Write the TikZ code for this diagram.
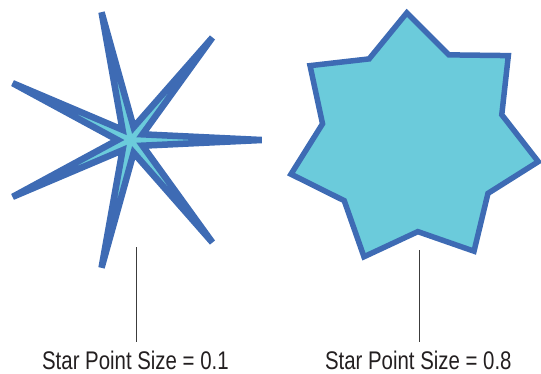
\documentclass[tikz,border=0pt]{standalone}
\usepackage{fontspec}
\setmainfont[FakeStretch=0.8]{Liberation Sans}
\usetikzlibrary{shapes.geometric}
\definecolor{starBlue}{RGB}{62,107,180}
\definecolor{starCyan}{RGB}{107,203,219}
\definecolor{inkBlack}{RGB}{35,31,32}
\definecolor{leaderGray}{RGB}{60,60,60}
\tikzset{
  star shape/.style={star,star points=7,draw=starBlue,fill=starCyan,line width=5.5pt,inner sep=0pt,outer sep=0pt},
  size label/.style={font=\fontsize{25.5}{30}\selectfont,text=inkBlack,inner sep=0pt,anchor=base},
  leader/.style={draw=leaderGray,line width=1pt}
}

\begin{document}
\begin{tikzpicture}[x=1pt,y=-1pt]
  \useasboundingbox (0,0) rectangle (541,373);
  % the two stars
  \node[star shape,line width=6.5pt,minimum size=262pt,star point ratio=10,shape border rotate=-90] (thinstar) at (130.7,140) {};
  \node[star shape,minimum size=254pt,star point ratio=1.38,shape border rotate=2.9] (fatstar) at (413.2,139.7) {};
  % captions
  \node[size label] (thinlabel) at (135.4,369) {Star Point Size = 0.1};
  \node[size label] (fatlabel) at (418.3,369) {Star Point Size = 0.8};
  \coordinate (thintop) at (136.7,247);
  \coordinate (fattop) at (419.3,250);
  \draw[leader] (thintop) -- ([yshift=8pt]thinlabel.north -| thintop);
  \draw[leader] (fattop) -- ([yshift=8pt]fatlabel.north -| fattop);
\end{tikzpicture}
\end{document}
